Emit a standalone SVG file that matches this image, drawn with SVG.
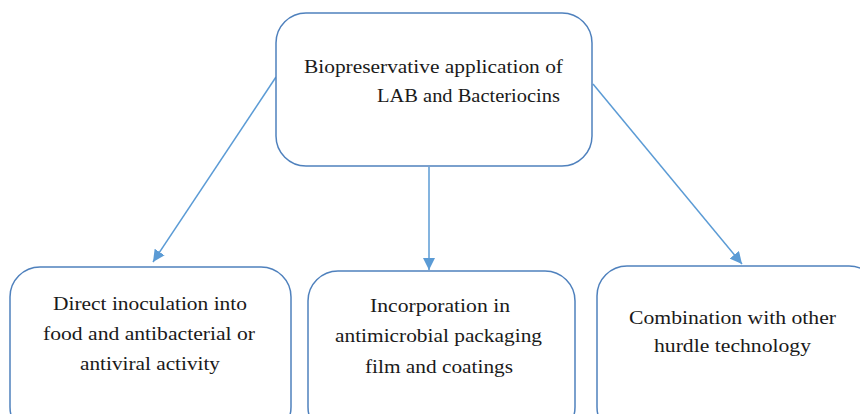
<svg xmlns="http://www.w3.org/2000/svg" width="860" height="414" viewBox="0 0 860 414">
  <style>
    .box { fill: #ffffff; stroke: #4f81bd; stroke-width: 1.5; }
    .lbl { font-family: 'Liberation Serif', 'DejaVu Serif', serif; font-size: 19px; fill: #1a1a1a; }
    .conn { stroke: #5b9bd5; stroke-width: 1.5; fill: none; }
  </style>
  <defs>
    <marker id="arrow" markerUnits="userSpaceOnUse" markerWidth="14" markerHeight="12" refX="12" refY="6" orient="auto">
      <path d="M0,0 L12,6 L0,12 Z" fill="#5b9bd5"/>
    </marker>
  </defs>
  <rect width="860" height="414" fill="#ffffff"/>

  <g id="connectors">
    <line class="conn" x1="276" y1="77" x2="153" y2="262" marker-end="url(#arrow)"/>
    <line class="conn" x1="429" y1="167" x2="429" y2="270" marker-end="url(#arrow)"/>
    <line class="conn" x1="593" y1="84" x2="742" y2="264" marker-end="url(#arrow)"/>
  </g>

  <g id="root">
    <rect class="box" x="276" y="13" width="316" height="153" rx="30" ry="30"/>
    <text class="lbl" font-family="Liberation Serif, DejaVu Serif, serif" x="304" y="73" textLength="259" lengthAdjust="spacingAndGlyphs">Biopreservative application of</text>
    <text class="lbl" font-family="Liberation Serif, DejaVu Serif, serif" x="377" y="102" textLength="183" lengthAdjust="spacingAndGlyphs">LAB and Bacteriocins</text>
  </g>

  <g id="direct">
    <rect class="box" x="10" y="267" width="281" height="170" rx="30" ry="30"/>
    <text class="lbl" x="53" y="310" textLength="194" lengthAdjust="spacingAndGlyphs">Direct inoculation into</text>
    <text class="lbl" x="43" y="340" textLength="212" lengthAdjust="spacingAndGlyphs">food and antibacterial or</text>
    <text class="lbl" x="80" y="370" textLength="140" lengthAdjust="spacingAndGlyphs">antiviral activity</text>
  </g>

  <g id="packaging">
    <rect class="box" x="308" y="271" width="267" height="166" rx="30" ry="30"/>
    <text class="lbl" x="370" y="312" textLength="140" lengthAdjust="spacingAndGlyphs">Incorporation in</text>
    <text class="lbl" x="335" y="342" textLength="207" lengthAdjust="spacingAndGlyphs">antimicrobial packaging</text>
    <text class="lbl" x="365" y="373" textLength="148" lengthAdjust="spacingAndGlyphs">film and coatings</text>
  </g>

  <g id="hurdle">
    <rect class="box" x="597" y="266" width="282" height="171" rx="30" ry="30"/>
    <text class="lbl" x="629" y="324" textLength="207" lengthAdjust="spacingAndGlyphs">Combination with other</text>
    <text class="lbl" x="654" y="352" textLength="157" lengthAdjust="spacingAndGlyphs">hurdle technology</text>
  </g>
</svg>
